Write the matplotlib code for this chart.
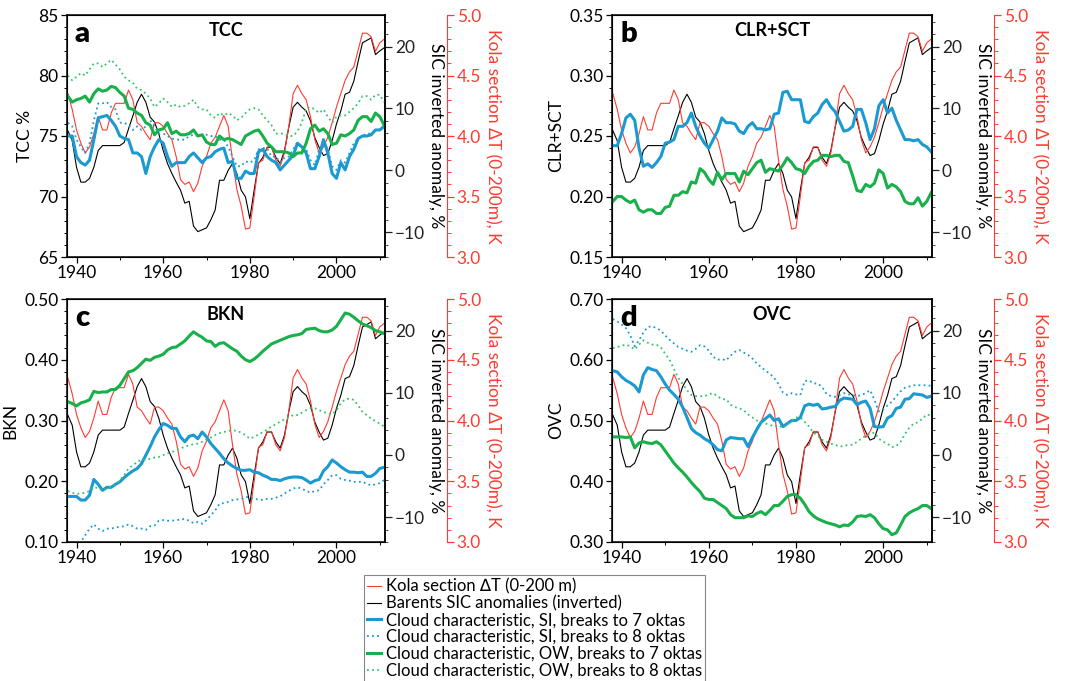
import numpy as np
import matplotlib
matplotlib.use('Agg')
import matplotlib.pyplot as plt
from matplotlib.ticker import MultipleLocator, FormatStrFormatter

plt.rcParams['font.family'] = ['Lato', 'DejaVu Sans']

years = np.arange(1938, 2012)

# Kola section temperature (0-200 m), K
kola = [4.35, 4.22, 4.05, 3.94, 3.86, 3.91, 4.02, 4.16, 4.05, 4.05,
        4.19, 4.27, 4.27, 4.27, 4.38, 4.30, 4.11, 4.08, 4.02, 3.97,
        4.11, 4.11, 4.08, 4.02, 3.97, 3.83, 3.64, 3.60, 3.62, 3.54,
        3.61, 3.75, 3.83, 3.94, 3.99, 4.08, 4.17, 4.08, 3.80, 3.56,
        3.42, 3.23, 3.24, 3.50, 3.78, 3.80, 3.91, 3.91, 3.80, 3.75,
        3.86, 4.08, 4.35, 4.42, 4.35, 4.30, 4.16, 3.97, 3.86, 3.91,
        3.99, 4.11, 4.24, 4.35, 4.46, 4.53, 4.57, 4.71, 4.85, 4.85,
        4.82, 4.70, 4.77, 4.80]

# Barents SIC anomaly (inverted), %
sic = [6.4, 4.8, 0.5, -1.9, -1.9, -1.3, 0.5, 3.2, 4.0, 4.0,
       4.0, 4.0, 4.0, 4.5, 6.7, 8.8, 11.0, 12.3, 11.0, 8.6,
       7.8, 5.9, 3.2, 1.1, -0.5, -1.9, -3.2, -5.3, -5.0, -9.0,
       -9.9, -9.6, -9.3, -8.0, -6.4, -1.6, -1.6, 0.0, 1.1, -0.5,
       -3.2, -4.3, -7.8, -3.2, 1.1, 2.1, 3.7, 3.7, 2.1, 1.1,
       3.2, 7.0, 10.2, 11.0, 10.2, 9.6, 8.0, 5.3, 3.7, 2.4,
       2.7, 4.8, 7.5, 9.6, 12.3, 12.6, 14.4, 17.6, 20.6, 21.0,
       21.4, 18.7, 19.3, 19.8]

# a: TCC
tcc_si7 = [75.0, 75.0, 73.3, 72.8, 72.6, 73.0, 74.7, 76.5, 76.6, 76.7,
           76.3, 75.8, 75.0, 74.8, 74.7, 73.6, 73.6, 73.3, 71.9, 73.3,
           74.1, 74.7, 74.4, 73.3, 72.5, 72.8, 72.8, 72.8, 73.3, 73.6,
           73.2, 72.8, 73.2, 73.3, 73.7, 73.9, 74.0, 72.8, 72.9, 71.5,
           71.5, 72.1, 71.9, 71.9, 73.7, 73.9, 73.3, 73.0, 72.8, 72.2,
           72.6, 73.0, 73.4, 74.4, 74.1, 73.6, 72.3, 72.3, 73.3, 74.7,
           73.6, 71.9, 71.5, 72.8, 72.2, 73.3, 73.9, 74.8, 75.0, 75.0,
           75.1, 75.5, 75.5, 75.8]
tcc_si8 = [76.1, 75.8, 74.7, 74.1, 73.6, 74.4, 76.3, 77.7, 77.7, 77.8,
           77.4, 77.2, 76.1, 76.1, 75.9, 75.5, 75.8, 75.5, 75.8, 76.3,
           75.8, 75.2, 75.2, 75.0, 74.8, 74.7, 74.7, 74.7, 75.0, 75.1,
           75.0, 75.1, 75.1, 75.0, 75.0, 74.7, 74.7, 74.1, 73.3, 72.5,
           72.5, 72.9, 72.8, 73.0, 73.9, 74.0, 74.0, 73.3, 73.3, 72.8,
           73.2, 73.3, 73.9, 74.5, 74.1, 73.9, 73.0, 72.6, 73.9, 74.4,
           73.9, 72.5, 72.2, 73.0, 72.8, 73.6, 74.4, 74.8, 75.0, 75.2,
           75.2, 75.5, 75.5, 75.8]
tcc_ow7 = [78.3, 77.8, 78.0, 78.1, 78.3, 77.8, 78.5, 78.9, 78.7, 78.8,
           79.1, 79.0, 78.6, 78.3, 77.3, 77.2, 76.9, 76.7, 76.1, 75.9,
           75.1, 75.5, 75.6, 76.1, 75.2, 75.4, 75.1, 75.1, 75.2, 75.5,
           75.0, 75.1, 74.5, 74.3, 74.3, 75.0, 74.7, 74.8, 74.7, 74.5,
           74.3, 75.0, 75.2, 75.4, 75.5, 75.0, 74.4, 74.1, 73.7, 73.7,
           73.7, 73.6, 73.3, 73.6, 73.6, 74.4, 75.6, 75.9, 75.4, 75.6,
           75.2, 74.3, 74.4, 75.1, 75.0, 75.2, 75.5, 76.3, 76.6, 76.6,
           76.2, 76.9, 76.6, 75.9]
tcc_ow8 = [80.0, 79.6, 79.9, 80.2, 80.0, 80.5, 81.0, 81.0, 80.7, 81.0,
           81.3, 80.9, 80.5, 79.9, 79.6, 79.4, 78.9, 78.8, 78.5, 78.1,
           77.4, 77.7, 78.1, 77.8, 77.4, 77.6, 77.4, 77.5, 77.7, 78.0,
           77.4, 77.2, 77.2, 76.7, 76.5, 76.9, 76.7, 76.9, 76.7, 76.3,
           76.5, 76.9, 77.2, 77.3, 77.2, 76.7, 76.3, 75.9, 75.2, 75.2,
           75.2, 75.0, 75.0, 75.4, 76.1, 77.3, 77.4, 77.2, 76.9, 77.2,
           76.6, 76.1, 76.6, 76.7, 76.7, 77.0, 77.3, 77.7, 78.3, 78.3,
           78.0, 78.4, 78.4, 77.8]

# b: CLR+SCT
clr_si7 = [0.242, 0.242, 0.252, 0.265, 0.268, 0.263, 0.240, 0.225, 0.227, 0.224,
           0.228, 0.233, 0.244, 0.245, 0.247, 0.258, 0.258, 0.261, 0.269, 0.258,
           0.250, 0.244, 0.240, 0.247, 0.254, 0.265, 0.261, 0.261, 0.260, 0.254,
           0.252, 0.258, 0.261, 0.256, 0.256, 0.255, 0.256, 0.268, 0.269, 0.286,
           0.287, 0.280, 0.280, 0.280, 0.262, 0.261, 0.266, 0.269, 0.276, 0.280,
           0.274, 0.270, 0.262, 0.254, 0.255, 0.258, 0.272, 0.272, 0.261, 0.247,
           0.256, 0.275, 0.280, 0.269, 0.273, 0.263, 0.255, 0.247, 0.247, 0.246,
           0.247, 0.243, 0.241, 0.237]
clr_ow7 = [0.196, 0.200, 0.200, 0.197, 0.195, 0.197, 0.189, 0.187, 0.189, 0.189,
           0.186, 0.186, 0.191, 0.192, 0.201, 0.201, 0.204, 0.203, 0.212, 0.211,
           0.223, 0.220, 0.214, 0.210, 0.220, 0.214, 0.219, 0.219, 0.219, 0.212,
           0.221, 0.218, 0.223, 0.228, 0.230, 0.220, 0.223, 0.222, 0.221, 0.226,
           0.232, 0.228, 0.223, 0.222, 0.219, 0.225, 0.229, 0.230, 0.234, 0.234,
           0.233, 0.234, 0.234, 0.229, 0.228, 0.217, 0.205, 0.204, 0.210, 0.208,
           0.211, 0.222, 0.219, 0.207, 0.210, 0.208, 0.204, 0.196, 0.194, 0.194,
           0.199, 0.192, 0.196, 0.203]

# c: BKN
bkn_si7 = [0.175, 0.175, 0.175, 0.169, 0.169, 0.177, 0.203, 0.195, 0.185, 0.190,
           0.190, 0.195, 0.199, 0.206, 0.212, 0.217, 0.221, 0.229, 0.243, 0.257,
           0.273, 0.285, 0.295, 0.292, 0.287, 0.287, 0.273, 0.265, 0.274, 0.276,
           0.270, 0.281, 0.273, 0.262, 0.254, 0.246, 0.237, 0.230, 0.225, 0.221,
           0.218, 0.218, 0.219, 0.215, 0.214, 0.210, 0.207, 0.203, 0.203, 0.201,
           0.204, 0.206, 0.207, 0.207, 0.206, 0.202, 0.197, 0.201, 0.203, 0.217,
           0.224, 0.235, 0.230, 0.224, 0.219, 0.215, 0.215, 0.214, 0.215, 0.208,
           0.208, 0.213, 0.221, 0.223]
bkn_si8 = [0.060, 0.070, 0.083, 0.100, 0.111, 0.122, 0.129, 0.122, 0.118, 0.122,
           0.122, 0.124, 0.125, 0.126, 0.129, 0.126, 0.122, 0.122, 0.120, 0.126,
           0.127, 0.135, 0.136, 0.135, 0.135, 0.136, 0.137, 0.138, 0.135, 0.131,
           0.133, 0.130, 0.136, 0.144, 0.152, 0.163, 0.164, 0.166, 0.169, 0.170,
           0.171, 0.174, 0.174, 0.171, 0.170, 0.169, 0.171, 0.171, 0.173, 0.175,
           0.180, 0.184, 0.188, 0.190, 0.188, 0.184, 0.181, 0.184, 0.185, 0.195,
           0.202, 0.210, 0.210, 0.204, 0.202, 0.201, 0.199, 0.199, 0.199, 0.196,
           0.193, 0.195, 0.197, 0.202]
bkn_ow7 = [0.331, 0.328, 0.324, 0.329, 0.331, 0.334, 0.348, 0.346, 0.347, 0.347,
           0.351, 0.351, 0.358, 0.369, 0.380, 0.382, 0.387, 0.394, 0.401, 0.399,
           0.404, 0.406, 0.409, 0.416, 0.420, 0.421, 0.426, 0.431, 0.439, 0.446,
           0.441, 0.437, 0.431, 0.430, 0.422, 0.427, 0.428, 0.423, 0.418, 0.414,
           0.406, 0.400, 0.397, 0.401, 0.407, 0.414, 0.420, 0.426, 0.429, 0.432,
           0.435, 0.438, 0.440, 0.441, 0.443, 0.450, 0.451, 0.452, 0.448, 0.446,
           0.446, 0.449, 0.455, 0.466, 0.477, 0.475, 0.470, 0.464, 0.459, 0.456,
           0.453, 0.448, 0.446, 0.443]
bkn_ow8 = [0.184, 0.181, 0.179, 0.180, 0.181, 0.184, 0.191, 0.188, 0.185, 0.188,
           0.191, 0.193, 0.202, 0.210, 0.221, 0.226, 0.232, 0.235, 0.235, 0.237,
           0.239, 0.240, 0.243, 0.246, 0.248, 0.251, 0.254, 0.257, 0.259, 0.261,
           0.262, 0.265, 0.269, 0.272, 0.276, 0.279, 0.281, 0.283, 0.284, 0.283,
           0.280, 0.276, 0.270, 0.273, 0.277, 0.281, 0.285, 0.290, 0.294, 0.298,
           0.302, 0.305, 0.309, 0.309, 0.313, 0.317, 0.320, 0.320, 0.317, 0.314,
           0.312, 0.310, 0.317, 0.328, 0.335, 0.336, 0.334, 0.325, 0.314, 0.309,
           0.303, 0.299, 0.295, 0.290]

# d: OVC
ovc_si7 = [0.582, 0.580, 0.572, 0.566, 0.562, 0.557, 0.547, 0.575, 0.587, 0.584,
           0.582, 0.572, 0.560, 0.550, 0.543, 0.535, 0.522, 0.505, 0.487, 0.480,
           0.476, 0.470, 0.466, 0.460, 0.452, 0.450, 0.468, 0.472, 0.471, 0.470,
           0.470, 0.457, 0.472, 0.485, 0.497, 0.503, 0.509, 0.500, 0.503, 0.490,
           0.495, 0.500, 0.500, 0.505, 0.524, 0.527, 0.525, 0.527, 0.519, 0.520,
           0.522, 0.523, 0.533, 0.537, 0.536, 0.535, 0.526, 0.530, 0.532, 0.520,
           0.490, 0.489, 0.490, 0.504, 0.508, 0.520, 0.522, 0.535, 0.536, 0.544,
           0.543, 0.542, 0.538, 0.540]
ovc_si8 = [0.667, 0.663, 0.658, 0.652, 0.640, 0.622, 0.632, 0.645, 0.654, 0.655,
           0.652, 0.648, 0.640, 0.633, 0.627, 0.621, 0.618, 0.615, 0.613, 0.618,
           0.624, 0.622, 0.615, 0.605, 0.600, 0.601, 0.599, 0.607, 0.613, 0.616,
           0.612, 0.608, 0.602, 0.594, 0.588, 0.582, 0.577, 0.570, 0.560, 0.546,
           0.542, 0.545, 0.543, 0.542, 0.565, 0.566, 0.561, 0.561, 0.555, 0.544,
           0.540, 0.539, 0.542, 0.545, 0.543, 0.542, 0.540, 0.542, 0.545, 0.550,
           0.534, 0.515, 0.518, 0.525, 0.531, 0.540, 0.548, 0.554, 0.556, 0.558,
           0.558, 0.558, 0.558, 0.557]
ovc_ow7 = [0.473, 0.473, 0.473, 0.472, 0.473, 0.455, 0.463, 0.465, 0.463, 0.462,
           0.465, 0.460, 0.450, 0.440, 0.430, 0.422, 0.415, 0.407, 0.398, 0.390,
           0.383, 0.372, 0.370, 0.370, 0.365, 0.360, 0.355, 0.345, 0.340, 0.340,
           0.340, 0.343, 0.342, 0.347, 0.350, 0.345, 0.352, 0.360, 0.360, 0.367,
           0.375, 0.378, 0.378, 0.372, 0.362, 0.350, 0.343, 0.338, 0.335, 0.332,
           0.330, 0.328, 0.325, 0.328, 0.327, 0.333, 0.342, 0.343, 0.342, 0.345,
           0.340, 0.330, 0.322, 0.320, 0.312, 0.315, 0.328, 0.342, 0.348, 0.352,
           0.355, 0.360, 0.360, 0.355]
ovc_ow8 = [0.619, 0.621, 0.623, 0.625, 0.622, 0.617, 0.625, 0.632, 0.628, 0.625,
           0.625, 0.620, 0.610, 0.600, 0.585, 0.570, 0.560, 0.550, 0.542, 0.540,
           0.540, 0.540, 0.543, 0.545, 0.540, 0.535, 0.535, 0.526, 0.522, 0.520,
           0.517, 0.510, 0.505, 0.500, 0.497, 0.495, 0.493, 0.490, 0.492, 0.488,
           0.492, 0.500, 0.505, 0.505, 0.498, 0.490, 0.480, 0.475, 0.468, 0.465,
           0.462, 0.460, 0.457, 0.458, 0.460, 0.460, 0.465, 0.470, 0.475, 0.478,
           0.480, 0.470, 0.465, 0.462, 0.456, 0.458, 0.465, 0.478, 0.488, 0.495,
           0.497, 0.503, 0.510, 0.508]

RED = '#ff3b30'
BLUE = '#1b9ad2'
GREEN = '#17b04b'
GREEN_L = '#36c46a'

W, H = 1065, 681
fig = plt.figure(figsize=(W / 100, H / 100), dpi=100)

panels = [
    # letter, title, ylabel, pixel box, ylim, major, minor, fmt, series
    ('a', 'TCC', 'TCC %', (67, 15, 385, 257), (65, 85), 5, 1, '%d',
     [tcc_si7, tcc_si8, tcc_ow7, tcc_ow8]),
    ('b', 'CLR+SCT', 'CLR+SCT', (612, 15, 932, 257), (0.15, 0.35), 0.05, 0.01, '%.2f',
     [clr_si7, None, clr_ow7, None]),
    ('c', 'BKN', 'BKN', (67, 299, 385, 542), (0.10, 0.50), 0.10, 0.02, '%.2f',
     [bkn_si7, bkn_si8, bkn_ow7, bkn_ow8]),
    ('d', 'OVC', 'OVC', (612, 299, 932, 542), (0.30, 0.70), 0.10, 0.02, '%.2f',
     [ovc_si7, ovc_si8, ovc_ow7, ovc_ow8]),
]

handles = None
for letter, title, ylab, box, ylim, maj, mnr, fmt, series in panels:
    x0, y0, x1, y1 = box
    ax = fig.add_axes([x0 / W, 1 - y1 / H, (x1 - x0) / W, (y1 - y0) / H])
    ax2 = ax.twinx()
    ax3 = ax.twinx()
    ax3.spines['right'].set_position(('axes', 1 + 62 / (x1 - x0)))
    for s in ['left', 'top', 'bottom']:
        ax3.spines[s].set_visible(False)
    ax3.spines['right'].set_color(RED)

    h_red, = ax3.plot(years, kola, color=RED, lw=0.8)
    h_blk, = ax2.plot(years, sic, color='black', lw=0.8)

    # cloud lines on top
    ax.set_zorder(ax3.get_zorder() + 1)
    ax.patch.set_visible(False)
    si7, si8, ow7, ow8 = series
    h1 = h2 = h3 = h4 = None
    if si7 is not None:
        h1, = ax.plot(years, si7, color=BLUE, lw=2.2)
    if si8 is not None:
        h2, = ax.plot(years, si8, color=BLUE, lw=1.3, ls=(0, (1, 1.8)))
    if ow7 is not None:
        h3, = ax.plot(years, ow7, color=GREEN, lw=2.2)
    if ow8 is not None:
        h4, = ax.plot(years, ow8, color=GREEN_L, lw=1.3, ls=(0, (1, 1.8)))
    if letter == 'a':
        handles = [h_red, h_blk, h1, h2, h3, h4]

    ax.set_xlim(1937.8, 2011.2)
    ax.set_ylim(*ylim)
    ax2.set_ylim(-14.0, 25.1)
    ax3.set_ylim(3.0, 5.0)

    ax.xaxis.set_major_locator(MultipleLocator(20))
    ax.xaxis.set_minor_locator(MultipleLocator(10))
    ax.yaxis.set_major_locator(MultipleLocator(maj))
    ax.yaxis.set_minor_locator(MultipleLocator(mnr))
    ax.yaxis.set_major_formatter(FormatStrFormatter(fmt))
    ax.tick_params(axis='both', which='major', direction='out', length=4,
                   width=0.9, labelsize=12.5, pad=2)
    ax.tick_params(axis='both', which='minor', direction='out', length=2, width=0.7)
    ax.tick_params(right=False, top=False, which='both')

    ax2.yaxis.set_major_locator(MultipleLocator(10))
    ax2.yaxis.set_minor_locator(MultipleLocator(2))
    ax2.tick_params(which='major', direction='out', length=5, width=0.9,
                    labelsize=12.5, pad=2, colors='#222222')
    ax2.tick_params(which='minor', direction='out', length=2.5, width=0.7,
                    colors='#444444')

    ax3.yaxis.set_major_locator(MultipleLocator(0.5))
    ax3.yaxis.set_minor_locator(MultipleLocator(0.1))
    ax3.yaxis.set_major_formatter(FormatStrFormatter('%.1f'))
    ax3.tick_params(which='major', direction='out', length=5, width=0.9,
                    labelsize=12.5, pad=2, colors=RED)
    ax3.tick_params(which='minor', direction='out', length=3, width=0.7, colors=RED)

    for s in ['left', 'right', 'top', 'bottom']:
        ax.spines[s].set_linewidth(1.1)
    ax2.spines['right'].set_linewidth(1.1)

    ax.set_ylabel(ylab, fontsize=12.5, labelpad=4)
    ax2.set_ylabel('SIC inverted anomaly, %', fontsize=12.5, rotation=270,
                   labelpad=14)
    ax3.set_ylabel('Kola section ΔT (0-200m), K', fontsize=12.5, rotation=270,
                   labelpad=14, color=RED)

    ax.text(0.025, 0.975, letter, transform=ax.transAxes, fontsize=21,
            fontweight='heavy', va='top', ha='left')
    ax.text(0.5, 0.97, title, transform=ax.transAxes, fontsize=13,
            fontweight='bold', va='top', ha='center')

labels = ['Kola section ∆T (0-200 m)',
          'Barents SIC anomalies (inverted)',
          'Cloud characteristic, SI, breaks to 7 oktas',
          'Cloud characteristic, SI, breaks to 8 oktas',
          'Cloud characteristic, OW, breaks to 7 oktas',
          'Cloud characteristic, OW, breaks to 8 oktas']
leg = fig.legend(handles, labels, loc='upper center',
                 bbox_to_anchor=(0.502, 1 - 575 / H), fontsize=12,
                 handlelength=0.8, handletextpad=0.3, labelspacing=0.05,
                 borderpad=0.2, borderaxespad=0, fancybox=False,
                 edgecolor='#888888', framealpha=1)
leg.get_frame().set_linewidth(0.8)

fig.savefig('out.png', dpi=100)
